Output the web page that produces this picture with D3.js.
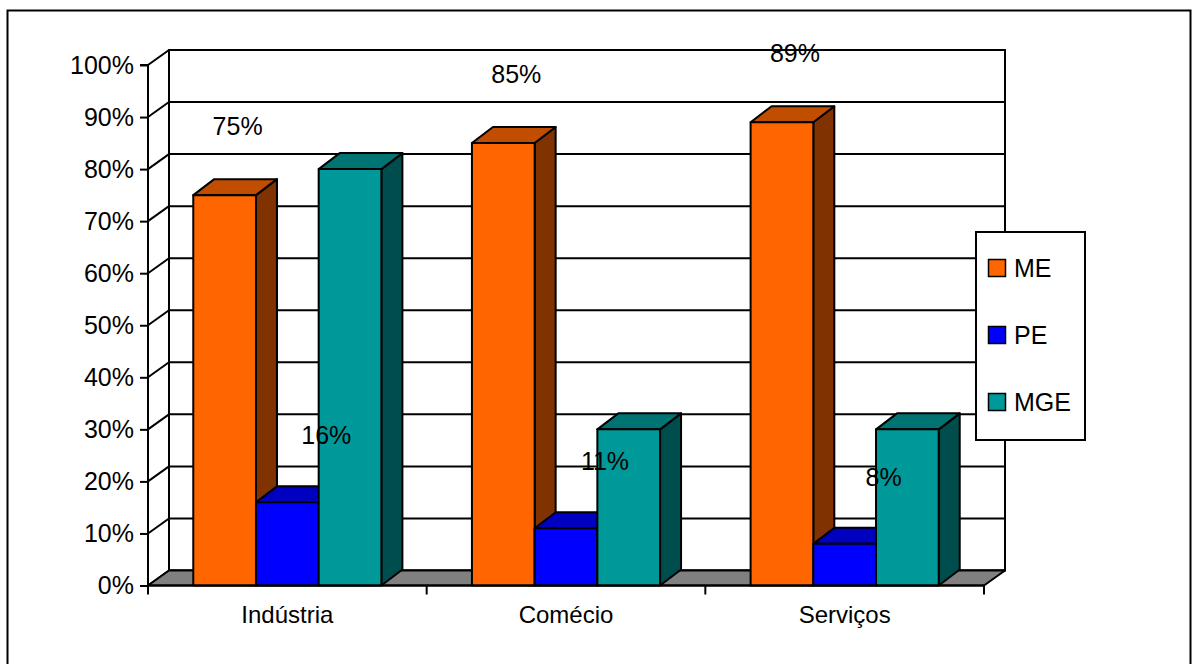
<!DOCTYPE html>
<html>
<head>
<meta charset="utf-8">
<script src="https://cdn.jsdelivr.net/npm/d3@7"></script>
<style>
  html, body { margin: 0; padding: 0; background: #fff; }
  svg { display: block; }
  text { font-family: "Liberation Sans", Arial, sans-serif; fill: #000; }
</style>
</head>
<body>
<svg id="chart" width="1199" height="664"></svg>
<script>
// ---- data ----
const categories = ["Indústria", "Comécio", "Serviços"];
const seriesNames = ["ME", "PE", "MGE"];
const valuesME  = [0.75, 0.85, 0.89];
const valuesPE  = [0.16, 0.11, 0.08];
const valuesMGE = [0.80, 0.30, 0.30];
const yTickValues = [0, 0.1, 0.2, 0.3, 0.4, 0.5, 0.6, 0.7, 0.8, 0.9, 1.0];
const dataLabelSeries = ["ME", "PE"];

const seriesValues = { ME: valuesME, PE: valuesPE, MGE: valuesMGE };
const colors = {
  ME:  { front: "#FF6600", top: "#C04D00", side: "#803300" },
  PE:  { front: "#0000FF", top: "#0000C0", side: "#000080" },
  MGE: { front: "#009999", top: "#007373", side: "#004D4D" }
};

// ---- layout ----
const svg = d3.select("#chart");
const FONT_TICK = 25, FONT_CAT = 24, FONT_LABEL = 25, FONT_LEGEND = 25;
const wallDX = 21, wallDY = -15;
const barDX = 21, barDY = -16;

const x0 = d3.scaleBand().domain(categories).range([148, 984]).padding(0);
const xs = d3.scaleBand().domain(seriesNames).range([0, x0.bandwidth()])
  .paddingInner(0).paddingOuter(0.722);
const y = d3.scaleLinear().domain([0, 1]).range([585.5, 65]);

const xL = x0.range()[0], xR = x0.range()[1];

// outer border
svg.append("rect").attr("x", 7.5).attr("y", 10.5).attr("width", 1183).attr("height", 700)
  .attr("fill", "#fff").attr("stroke", "#000").attr("stroke-width", 2);

// back wall
svg.append("rect")
  .attr("x", xL + wallDX).attr("y", y(1) + wallDY)
  .attr("width", xR - xL).attr("height", y(0) - y(1))
  .attr("fill", "#fff").attr("stroke", "#000").attr("stroke-width", 2);

// gridlines on back wall and side wall
const grid = svg.append("g").attr("stroke", "#000").attr("stroke-width", 2).attr("fill", "none");
yTickValues.forEach(v => {
  grid.append("line")
    .attr("x1", xL + wallDX).attr("x2", xR + wallDX)
    .attr("y1", y(v) + wallDY).attr("y2", y(v) + wallDY);
  grid.append("line")
    .attr("x1", xL).attr("x2", xL + wallDX)
    .attr("y1", y(v)).attr("y2", y(v) + wallDY);
});

// floor
svg.append("polygon")
  .attr("points", [[xL, y(0)], [xR, y(0)], [xR + wallDX, y(0) + wallDY], [xL + wallDX, y(0) + wallDY]].map(p => p.join(",")).join(" "))
  .attr("fill", "#808080").attr("stroke", "#000").attr("stroke-width", 2).attr("stroke-linejoin", "round");

// bars
const bars = svg.append("g").attr("stroke", "#000").attr("stroke-width", 2).attr("stroke-linejoin", "round");
categories.forEach((cat, ci) => {
  seriesNames.forEach(s => {
    const v = seriesValues[s][ci];
    const xa = x0(cat) + xs(s), xb = xa + xs.bandwidth();
    const yt = y(v), yb = y(0);
    const c = colors[s];
    const pts = arr => arr.map(p => p.join(",")).join(" ");
    bars.append("polygon").attr("fill", c.side)
      .attr("points", pts([[xb, yt], [xb + barDX, yt + barDY], [xb + barDX, yb + barDY], [xb, yb]]));
    bars.append("polygon").attr("fill", c.top)
      .attr("points", pts([[xa, yt], [xa + barDX, yt + barDY], [xb + barDX, yt + barDY], [xb, yt]]));
    bars.append("rect").attr("fill", c.front)
      .attr("x", xa).attr("y", yt).attr("width", xb - xa).attr("height", yb - yt);
  });
});

// y axis
const yAxis = d3.axisLeft(y).tickValues(yTickValues).tickFormat(d3.format(".0%"))
  .tickSize(8).tickPadding(6);
const gy = svg.append("g").attr("transform", `translate(${xL},0)`).call(yAxis);
gy.select(".domain").attr("stroke", "#000").attr("stroke-width", 2).attr("d", `M-8,${y(1)}H0V${y(0)}`);
gy.selectAll(".tick line").attr("stroke", "#000").attr("stroke-width", 2);
gy.selectAll(".tick text").attr("font-size", FONT_TICK).attr("font-family", "Liberation Sans, Arial, sans-serif").attr("fill", "#000");

// x axis
const gx = svg.append("g").attr("stroke", "#000").attr("stroke-width", 2);
gx.append("line").attr("x1", xL).attr("x2", xR).attr("y1", y(0)).attr("y2", y(0));
const edges = categories.map(c => x0(c)).concat([xR]);
edges.forEach(ex => {
  gx.append("line").attr("x1", ex).attr("x2", ex).attr("y1", y(0)).attr("y2", y(0) + 9);
});
svg.append("g").selectAll("text").data(categories).join("text")
  .attr("x", d => x0(d) + x0.bandwidth() / 2)
  .attr("y", y(0) + 37)
  .attr("text-anchor", "middle")
  .attr("font-size", FONT_CAT)
  .text(d => d);

// data labels
const labelOffset = { ME: { dx: 13, dy: -69 }, PE: { dx: 39, dy: -67 } };
const fmt = d3.format(".0%");
const lbl = svg.append("g");
dataLabelSeries.forEach(s => {
  categories.forEach((cat, ci) => {
    const v = seriesValues[s][ci];
    lbl.append("text")
      .attr("x", x0(cat) + xs(s) + xs.bandwidth() / 2 + labelOffset[s].dx)
      .attr("y", y(v) + labelOffset[s].dy)
      .attr("dy", "0.35em")
      .attr("text-anchor", "middle")
      .attr("font-size", FONT_LABEL)
      .text(fmt(v));
  });
});

// legend
const lg = svg.append("g");
lg.append("rect").attr("x", 976).attr("y", 232).attr("width", 109).attr("height", 208)
  .attr("fill", "#fff").attr("stroke", "#000").attr("stroke-width", 2);
const legendY = d3.scalePoint().domain(seriesNames).range([268, 402]);
seriesNames.forEach(s => {
  lg.append("rect").attr("x", 988.5).attr("y", legendY(s) - 8.5).attr("width", 17).attr("height", 17)
    .attr("fill", colors[s].front).attr("stroke", "#000").attr("stroke-width", 1.5);
  lg.append("text").attr("x", 1014).attr("y", legendY(s)).attr("dy", "0.36em")
    .attr("font-size", FONT_LEGEND).text(s);
});
</script>
</body>
</html>
